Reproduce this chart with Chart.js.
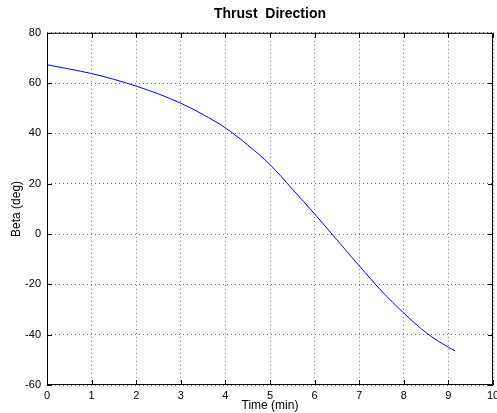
<!DOCTYPE html>
<html>
<head>
<meta charset="utf-8">
<script src="https://cdn.jsdelivr.net/npm/chart.js@4"></script>
<style>
  html, body { margin: 0; padding: 0; background: #fff; }
  #wrap { width: 497px; height: 413px; }
</style>
</head>
<body>
<div id="wrap"><canvas id="myChart"></canvas></div>
<script>
// values
const time = [0, 0.5, 1, 1.5, 2, 2.5, 3, 3.5, 4, 4.5, 5, 5.5, 6, 6.5, 7, 7.5, 8, 8.5, 9, 9.15];
const beta = [67.3, 65.6, 63.8, 61.5, 58.8, 55.7, 52.0, 47.5, 42.2, 35.4, 27.6, 17.9, 8.0, -2.3, -12.6, -22.6, -31.4, -39.2, -45.0, -46.4];
const xRange = [0, 10];
const yRange = [-60, 80];
const xStep = 1;
const yStep = 20;

const font = 'Helvetica, "Liberation Sans", Arial, sans-serif';

// box round the axes plus inward tick marks, MATLAB style
const boxTicks = {
  id: 'boxTicks',
  afterDraw(chart) {
    const c = chart.ctx, a = chart.chartArea;
    const xs = chart.scales.x, ys = chart.scales.y;
    c.save();
    c.strokeStyle = '#000';
    c.lineWidth = 1;
    c.beginPath();
    c.rect(a.left + 0.5, a.top + 0.5, a.right - a.left - 1, a.bottom - a.top - 1);
    xs.ticks.forEach(t => {
      const px = Math.round(xs.getPixelForValue(t.value)) + 0.5;
      c.moveTo(px, a.bottom); c.lineTo(px, a.bottom - 5);
      c.moveTo(px, a.top); c.lineTo(px, a.top + 5);
    });
    ys.ticks.forEach(t => {
      const py = Math.round(ys.getPixelForValue(t.value)) + 0.5;
      c.moveTo(a.left, py); c.lineTo(a.left + 5, py);
      c.moveTo(a.right, py); c.lineTo(a.right - 5, py);
    });
    c.stroke();
    c.restore();
  }
};

const ctx = document.getElementById('myChart');

const chart = new Chart(ctx, {
  type: 'line',
  data: {
    datasets: [{
      data: time.map((t, i) => ({ x: t, y: beta[i] })),
      borderColor: '#0000ff',
      borderWidth: 1,
      pointRadius: 0,
      cubicInterpolationMode: 'monotone',
      fill: false
    }]
  },
  options: {
    responsive: true,
    maintainAspectRatio: false,
    animation: false,
    layout: { padding: { left: 0, right: 4, top: 0, bottom: 0 } },
    plugins: {
      legend: { display: false },
      tooltip: { enabled: false },
      title: {
        display: true,
        text: 'Thrust  Direction',
        color: '#000',
        fullSize: false,
        font: { family: font, size: 14, weight: 'bold' },
        padding: { top: 6, bottom: 10 }
      }
    },
    scales: {
      x: {
        type: 'linear',
        min: xRange[0],
        max: xRange[1],
        ticks: { stepSize: xStep, color: '#000', font: { family: font, size: 11 }, padding: 4, maxRotation: 0 },
        grid: { color: 'rgba(0,0,0,0.55)', drawTicks: false },
        border: { display: false, dash: [1, 3] },
        title: { display: true, text: 'Time (min)', color: '#000', font: { family: font, size: 12 }, padding: 0 },
        afterFit(s) { s.height = 28; s.paddingLeft = 0; s.paddingRight = 0; }
      },
      y: {
        min: yRange[0],
        max: yRange[1],
        ticks: { stepSize: yStep, color: '#000', font: { family: font, size: 11 }, padding: 6 },
        grid: { color: 'rgba(0,0,0,0.55)', drawTicks: false },
        border: { display: false, dash: [1, 3] },
        title: { display: true, text: 'Beta (deg)', color: '#000', font: { family: font, size: 12 }, padding: { top: 9, bottom: 0 } },
        afterFit(s) { s.width = 47; s.paddingTop = 0; s.paddingBottom = 0; }
      }
    }
  },
  plugins: [boxTicks]
});
</script>
</body>
</html>
